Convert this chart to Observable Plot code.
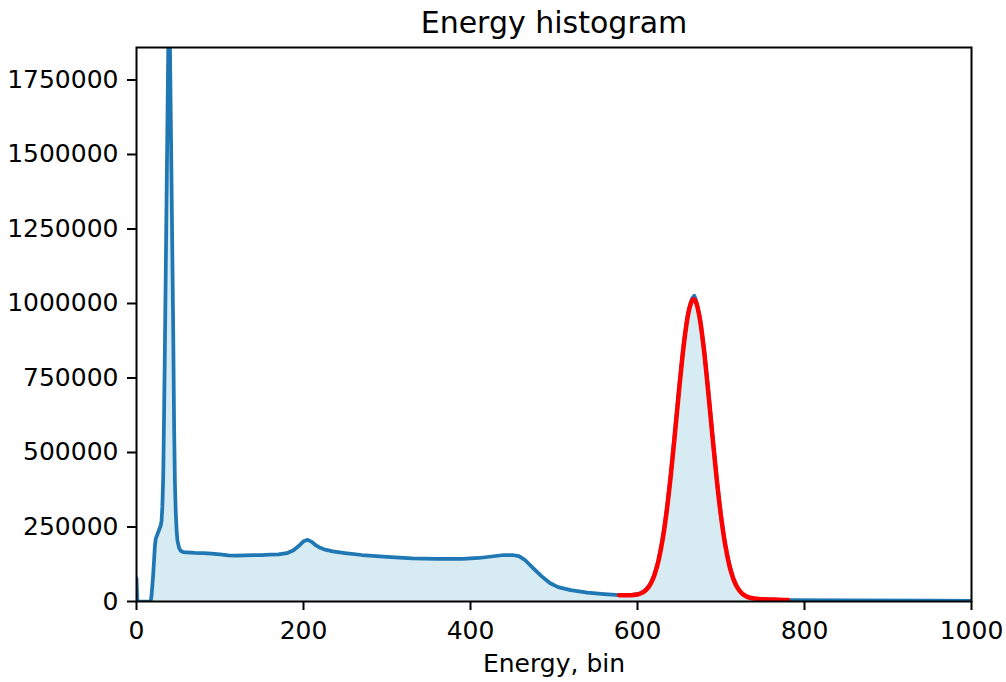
<!DOCTYPE html>
<html>
<head>
<meta charset="utf-8">
<script src="https://cdn.jsdelivr.net/npm/d3@7"></script>
<script src="https://cdn.jsdelivr.net/npm/@observablehq/plot@0.6"></script>
<style>
  html, body { margin: 0; padding: 0; background: #fff; }
  #chart { width: 1006px; height: 682px; }
</style>
</head>
<body>
<div id="chart"></div>
<script>
// Histogram (blue) – energy bin and counts
const histEnergy = [0, 1, 17, 18, 20, 22, 23, 25, 27, 29, 30, 31, 32, 33, 34, 35, 36, 37, 38, 39, 40, 41, 42, 43, 44, 45, 46, 47, 48, 49, 51, 53, 56,
  60, 70, 80, 90, 100, 110, 120, 130, 140, 150, 160, 170, 180, 188, 195, 200, 205, 210, 215, 220, 226, 235, 250, 270, 300, 330, 360, 390, 410, 425, 440, 450, 458, 465, 475, 485, 495, 505, 520, 540, 560, 578,
  590, 600, 605, 610, 615, 620, 625, 630, 635, 640, 645, 650, 655, 660, 665, 668, 670, 675, 680, 685, 690, 695, 700, 705, 710, 715, 720, 725, 730, 735, 740, 750, 760, 780, 850, 950, 1000];
const histCounts = [78000, 0, 0, 20000, 90000, 185000, 210000, 225000, 240000, 255000, 270000, 320000, 420000, 620000, 850000, 1100000, 1350000, 1600000, 1850000, 2100000, 1880000, 1640000, 1400000, 1150000, 900000, 600000, 400000, 300000, 240000, 205000, 180000, 170000, 166000,
  165000, 163000, 162000, 161000, 158000, 155000, 154000, 155000, 156000, 156000, 157000, 158000, 162000, 172000, 188000, 202000, 207000, 200000, 188000, 180000, 174000, 168000, 162000, 156000, 150000, 145000, 143000, 143000, 146000, 151000, 156000, 156000, 152000, 140000, 112000, 85000, 62000, 48000, 38000, 30000, 25000, 21500,
  21500, 24500, 29500, 39500, 57500, 88000, 137000, 209000, 307000, 431000, 574000, 722000, 857000, 960000, 1015000, 1026000, 1012000, 949000, 840000, 700000, 552000, 410000, 288000, 192000, 122000, 75000, 45000, 27500, 18000, 12500, 10000, 7600, 6500, 5000, 4000, 3000, 2500];

// Fitted curve (red)
const fitEnergy = [578, 585, 590, 595, 600, 605, 610, 615, 620, 625, 630, 635, 640, 645, 650, 655, 660, 665, 667, 670, 675, 680, 685, 690, 695, 700, 705, 710, 715, 720, 725, 730, 735, 740, 750, 760, 770, 780];
const fitCounts = [21070, 20750, 20830, 21550, 23660, 28460, 38060, 56000, 86500, 135000, 206500, 304000, 427000, 569000, 716000, 851000, 954000, 1008000, 1014000, 1004300, 942800, 834000, 695500, 547600, 406700, 285900, 190500, 121200, 74300, 44800, 27360, 17660, 12500, 9850, 7620, 6600, 5800, 5000];

const yTicks = [0, 250000, 500000, 750000, 1000000, 1250000, 1500000, 1750000];
const xTicks = [0, 200, 400, 600, 800, 1000];
const titleText = "Energy histogram";
const xLabel = "Energy, bin";

const hist = histEnergy.map((e, i) => ({e, c: histCounts[i]}));
const fit = fitEnergy.map((e, i) => ({e, c: fitCounts[i]}));

const chart = Plot.plot({
  width: 1006,
  height: 682,
  marginLeft: 136,
  marginRight: 35,
  marginTop: 47,
  marginBottom: 81,
  style: {fontFamily: "DejaVu Sans", fontSize: "25px", color: "black", background: "white"},
  x: {domain: [0, 1000]},
  y: {domain: [0, 1859000]},
  marks: [
    Plot.areaY(hist, {x: "e", y: "c", fill: "lightblue", fillOpacity: 0.5, clip: true}),
    Plot.line(hist, {x: "e", y: "c", stroke: "#1f77b4", strokeWidth: 3.75, clip: true}),
    Plot.line(fit, {x: "e", y: "c", stroke: "red", strokeWidth: 4.5, curve: "monotone-x", clip: true}),
    Plot.frame({stroke: "black", strokeWidth: 2}),
    Plot.axisY({ticks: yTicks, tickFormat: d3.format("d"), tickSize: 9, tickPadding: 9, strokeWidth: 2, label: null, fontSize: 25}),
    Plot.axisX({ticks: xTicks, tickFormat: d3.format("d"), tickSize: 9, tickPadding: 11, strokeWidth: 2, label: null, fontSize: 25}),
    Plot.text([titleText], {frameAnchor: "top", lineAnchor: "middle", dy: -24, fontSize: 30, fill: "black"}),
    Plot.text([xLabel], {frameAnchor: "bottom", lineAnchor: "middle", dy: 62, fontSize: 25, fill: "black"})
  ]
});
document.getElementById("chart").appendChild(chart);
</script>
</body>
</html>
